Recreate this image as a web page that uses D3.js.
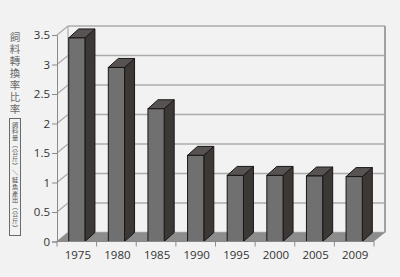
<!DOCTYPE html>
<html>
<head>
<meta charset="utf-8">
<script src="https://cdn.jsdelivr.net/npm/d3@7"></script>
<style>
  body { margin: 0; background: #f1f2f1; }
  svg { display: block; }
</style>
</head>
<body>
<div id="chart"></div>
<script>
// data
var years = ["1975", "1980", "1985", "1990", "1995", "2000", "2005", "2009"];
var ratios = [3.45, 2.95, 2.25, 1.46, 1.12, 1.12, 1.11, 1.10];
var yTicks = [0, 0.5, 1, 1.5, 2, 2.5, 3, 3.5];
var yTitle = "飼料轉換率比率";
var yUnit = "飼料量（公斤）／鮭魚產出（公斤）";

var W = 400, H = 277;
// depth offset of back wall, and of bars
var dx = 11, dy = -9, bdx = 10, bdy = -9;

var svg = d3.select("#chart")
  .append("svg")
    .attr("width", W)
    .attr("height", H);

svg.append("rect")
    .attr("width", W).attr("height", H)
    .style("fill", "#f1f2f1");

var x = d3.scaleBand()
  .domain(years)
  .range([57, 374])
  .paddingInner(0.59)
  .paddingOuter(0.295);

var y = d3.scaleLinear()
  .domain([0, 3.5])
  .range([241.5, 35]);

var gridColor = "#ababab";

// back wall gridlines
svg.append("g")
  .selectAll("line")
  .data(yTicks)
  .enter()
  .append("line")
    .attr("x1", 57 + dx)
    .attr("x2", 374 + dx)
    .attr("y1", function (d) { return y(d) + dy; })
    .attr("y2", function (d) { return y(d) + dy; })
    .style("stroke", gridColor)
    .style("stroke-width", 1.3);

// side wall diagonals
svg.append("g")
  .selectAll("line")
  .data(yTicks)
  .enter()
  .append("line")
    .attr("x1", 57)
    .attr("x2", 57 + dx)
    .attr("y1", function (d) { return y(d); })
    .attr("y2", function (d) { return y(d) + dy; })
    .style("stroke", gridColor)
    .style("stroke-width", 1.2);

// back wall edges
svg.append("line")
    .attr("x1", 374 + dx).attr("x2", 374 + dx)
    .attr("y1", y(3.5) + dy).attr("y2", y(0) + dy)
    .style("stroke", "#a0a0a0")
    .style("stroke-width", 2);
svg.append("line")
    .attr("x1", 57 + dx).attr("x2", 57 + dx)
    .attr("y1", y(3.5) + dy).attr("y2", y(0) + dy)
    .style("stroke", gridColor)
    .style("stroke-width", 1.2);

// floor
svg.append("path")
    .attr("d", "M57," + y(0) + "L374," + y(0) + "L" + (374 + dx) + "," + (y(0) + dy) +
      "L" + (57 + dx) + "," + (y(0) + dy) + "Z")
    .style("fill", "#8c8c8c");

// bars
var bars = svg.append("g")
  .selectAll("g")
  .data(years)
  .enter()
  .append("g");

var bw = x.bandwidth();

bars.append("path")   // side
    .attr("d", function (d, i) {
      var x1 = x(d) + bw, yt = y(ratios[i]), yb = y(0);
      return "M" + x1 + "," + yt + "L" + (x1 + bdx) + "," + (yt + bdy) +
        "L" + (x1 + bdx) + "," + (yb + bdy) + "L" + x1 + "," + yb + "Z";
    })
    .style("fill", "#3c3836")
    .style("stroke", "#1a1616")
    .style("stroke-width", 1)
    .style("stroke-linejoin", "round");

bars.append("path")   // top
    .attr("d", function (d, i) {
      var x0 = x(d), yt = y(ratios[i]);
      return "M" + x0 + "," + yt + "L" + (x0 + bdx) + "," + (yt + bdy) +
        "L" + (x0 + bw + bdx) + "," + (yt + bdy) + "L" + (x0 + bw) + "," + yt + "Z";
    })
    .style("fill", "#575353")
    .style("stroke", "#1a1616")
    .style("stroke-width", 1)
    .style("stroke-linejoin", "round");

bars.append("rect")   // front
    .attr("x", function (d) { return x(d); })
    .attr("y", function (d, i) { return y(ratios[i]); })
    .attr("width", bw)
    .attr("height", function (d, i) { return y(0) - y(ratios[i]); })
    .style("fill", "#707070")
    .style("stroke", "#1a1616")
    .style("stroke-width", 1);

// Y axis
var yAxis = svg.append("g")
    .attr("transform", "translate(57,0)")
    .call(d3.axisLeft(y).tickValues(yTicks).tickSize(5).tickPadding(2)
      .tickFormat(function (d) { return d3.format("")(d); }));
yAxis.select(".domain").style("stroke", "#8a8a8a");
yAxis.selectAll(".tick line").style("stroke", "#8a8a8a");
yAxis.selectAll("text")
    .style("font-family", "'Open Sans', sans-serif")
    .style("font-size", "11.5px")
    .style("fill", "#333");

// X axis
var edges = d3.range(years.length + 1).map(function (i) { return 57 + i * x.step(); });
svg.append("line")
    .attr("x1", 57).attr("x2", 374)
    .attr("y1", y(0)).attr("y2", y(0))
    .style("stroke", "#8a8a8a");
svg.append("g")
  .selectAll("line")
  .data(edges)
  .enter()
  .append("line")
    .attr("x1", function (d) { return d; })
    .attr("x2", function (d) { return d; })
    .attr("y1", y(0))
    .attr("y2", y(0) + 5)
    .style("stroke", "#8a8a8a");
svg.append("g")
  .selectAll("text")
  .data(years)
  .enter()
  .append("text")
    .attr("x", function (d) { return x(d) + bw / 2 + 1; })
    .attr("y", 259)
    .attr("text-anchor", "middle")
    .style("font-family", "'Open Sans', sans-serif")
    .style("font-size", "11.5px")
    .style("fill", "#333")
    .text(function (d) { return d; });

// Y title, stacked characters
svg.append("g")
  .selectAll("text")
  .data(Array.from(yTitle))
  .enter()
  .append("text")
    .attr("x", 15)
    .attr("y", function (d, i) { return 41 + i * 12; })
    .attr("text-anchor", "middle")
    .style("font-family", "'Noto Sans CJK TC', sans-serif")
    .style("font-size", "10.5px")
    .style("fill", "#6a6a6a")
    .text(function (d) { return d; });

// boxed unit label
svg.append("rect")
    .attr("x", 9.5).attr("y", 118.5)
    .attr("width", 11).attr("height", 117)
    .style("fill", "none")
    .style("stroke", "#6a6a6a")
    .style("stroke-width", 1);
svg.append("g")
  .selectAll("text")
  .data(Array.from(yUnit))
  .enter()
  .append("text")
    .attr("x", 15)
    .attr("y", function (d, i) { return 126.5 + i * 6.9; })
    .attr("text-anchor", "middle")
    .attr("transform", function (d, i) {
      return /[（）／]/.test(d) ? "rotate(90,15," + (124.3 + i * 6.9) + ")" : null;
    })
    .style("font-family", "'Noto Sans CJK TC', sans-serif")
    .style("font-size", "6.2px")
    .style("fill", "#555")
    .text(function (d) { return d; });
</script>
</body>
</html>
